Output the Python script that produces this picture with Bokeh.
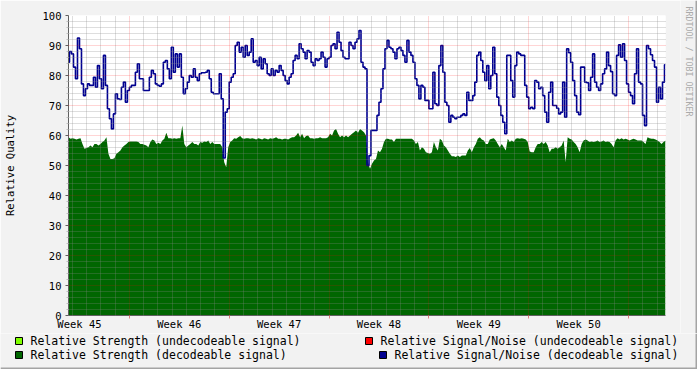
import math
from bokeh.plotting import figure
from bokeh.layouts import column, row
from bokeh.models import (Range1d, FixedTicker, ColumnDataSource)
from bokeh.core.properties import value
from bokeh.embed import file_html
from bokeh.resources import INLINE

# ---------------- data ----------------
sample_step_days = 0.14          # one consolidated sample every 0.14 day
week_labels = ["Week 45", "Week 46", "Week 47", "Week 48", "Week 49", "Week 50"]
week_label_days = [0.77, 7.77, 14.77, 21.77, 28.77, 35.77]
week_start_days = [4.27, 11.27, 18.27, 25.27, 32.27, 39.27]
y_ticks = [0, 10, 20, 30, 40, 50, 60, 70, 80, 90, 100]

# Relative Signal/Noise (decodeable signal)
sn_decodeable = [
    84.4, 88.0, 87.2, 82.8, 78.9, 92.5, 88.9, 77.2, 73.3, 75.6,
    77.2, 76.7, 76.7, 79.4, 76.1, 83.3, 78.9, 75.6, 86.7, 76.7,
    68.9, 65.6, 62.2, 67.2, 73.9, 72.2, 72.0, 76.1, 77.8, 71.1,
    75.0, 76.1, 76.7, 76.7, 81.1, 83.9, 78.9, 78.9, 75.0, 75.0,
    75.0, 79.4, 81.7, 80.6, 77.2, 76.7, 76.4, 77.2, 84.4, 85.0,
    82.2, 78.9, 89.4, 81.1, 87.2, 82.8, 87.2, 79.4, 73.9, 75.6,
    77.8, 80.0, 79.4, 82.2, 79.4, 78.3, 80.6, 80.9, 80.9, 81.1,
    81.7, 78.9, 74.4, 73.9,
    73.9, 73.9, 80.6, 72.2, 52.5, 67.8, 68.9, 77.8, 79.4, 80.6,
    90.0, 91.1, 87.8, 89.4, 86.1, 90.0, 86.7, 87.8, 92.2, 84.4,
    85.0, 83.3, 86.1, 82.2, 85.6, 83.9, 80.6, 80.0, 82.2, 80.0,
    81.7, 81.1, 83.3, 81.7, 80.0, 78.3, 77.2, 79.4, 80.6, 85.0,
    86.7, 85.6, 90.6, 88.9, 87.8, 85.6, 88.3, 87.8, 84.4, 83.3,
    85.6, 85.0, 85.6, 87.8, 86.1, 82.8, 85.6, 86.1, 90.0, 90.6,
    88.9, 94.4, 91.1, 88.3, 86.1, 85.6, 85.6, 91.1, 90.0, 88.9,
    91.1, 92.2, 95.0, 84.4, 82.8,
    82.2, 50.0, 53.3, 61.7, 61.7, 61.7, 66.7, 71.1, 75.6, 82.2,
    88.9, 91.7, 89.4, 88.9, 87.8, 85.6, 88.9, 89.4, 88.3, 86.7,
    84.4, 91.7, 87.8, 86.7, 84.4, 78.9, 76.7, 72.2, 76.7, 76.1,
    71.7, 71.7, 68.9, 68.9, 81.1, 70.6, 70.0, 83.3, 90.0, 81.1,
    71.1, 70.0, 64.4, 66.7, 66.1, 65.6, 66.1, 66.1, 66.7, 67.2,
    66.7, 74.4, 71.7, 71.7, 73.3, 77.8, 86.7, 87.8, 85.0, 81.1,
    78.3, 83.3, 75.6, 80.0, 89.4, 80.6, 72.8, 70.0, 66.7, 64.4,
    60.6, 86.7, 86.7, 78.3, 72.8,
    83.3, 87.8, 87.2, 86.7, 86.7, 76.7, 72.8, 68.9, 69.4, 68.9,
    78.3, 77.8, 75.6, 76.1, 73.3, 67.8, 64.4, 74.4, 77.8, 70.0,
    70.0, 69.1, 67.2, 67.8, 77.8, 66.1, 88.9, 87.6, 84.4, 78.3,
    73.3, 67.8, 66.9, 82.8, 82.8, 77.8, 77.6, 75.0, 79.4, 87.2,
    77.8, 76.1, 75.0, 77.2, 80.6, 82.2, 87.8, 83.3, 81.3, 73.9,
    73.3, 86.7, 90.2, 86.1, 90.6, 85.0, 77.2, 74.4, 73.3, 70.6,
    80.6, 88.9, 77.8, 77.2, 66.7, 63.3, 90.0, 88.9, 86.9, 85.0,
    82.8, 71.1, 76.1, 72.2, 77.8, 83.6,
]

# Relative Strength (decodeable signal)
strength_decodeable = [
    59.4, 58.9, 59.1, 58.9, 58.7, 58.9, 59.1, 57.2, 55.6, 55.8,
    56.1, 56.7, 56.1, 57.2, 57.2, 56.7, 57.2, 57.8, 58.3, 59.4,
    53.9, 52.2, 52.2, 52.4, 53.9, 54.4, 55.0, 56.1, 56.7, 57.2,
    57.8, 58.0, 58.0, 58.0, 58.0, 57.8, 57.2, 57.2, 56.9, 56.7,
    56.1, 57.8, 58.7, 58.3, 57.2, 57.6, 57.2, 58.3, 58.9, 60.9,
    59.1, 59.1, 58.9, 59.1, 58.9, 59.1, 59.1, 63.3, 57.2, 56.1,
    56.7, 57.2, 57.8, 57.2, 57.2, 56.7, 57.8, 57.6, 58.0, 57.8,
    58.3, 57.2, 57.8, 57.2,
    57.2, 57.2, 57.2, 56.1, 51.1, 49.4, 56.1, 57.8, 58.3, 59.1,
    58.9, 59.4, 59.8, 59.1, 58.9, 59.1, 59.1, 58.9, 59.1, 58.9,
    58.7, 59.1, 58.9, 58.7, 59.1, 58.9, 58.7, 59.1, 58.9, 59.1,
    59.4, 58.9, 58.9, 58.7, 58.9, 58.9, 58.7, 59.1, 59.4, 59.4,
    60.0, 60.9, 59.4, 60.6, 59.1, 59.8, 60.0, 59.1, 59.1, 58.9,
    59.1, 59.1, 59.4, 59.1, 59.1, 59.1, 59.4, 60.6, 60.0, 61.7,
    62.2, 60.6, 59.4, 60.0, 59.4, 60.0, 59.4, 60.0, 60.6, 61.1,
    61.7, 60.9, 62.2, 61.7, 61.1,
    60.0, 51.1, 48.9, 50.6, 51.7, 52.2, 55.0, 54.4, 55.6, 57.8,
    58.9, 58.9, 58.7, 58.7, 57.8, 58.9, 58.9, 58.9, 58.9, 58.9,
    58.9, 58.9, 58.9, 58.9, 58.3, 57.2, 57.8, 55.0, 56.1, 55.6,
    54.4, 54.2, 53.9, 54.4, 57.8, 56.1, 55.0, 58.9, 58.3, 56.7,
    56.1, 55.0, 53.9, 53.1, 53.1, 52.8, 53.3, 52.8, 53.3, 53.3,
    53.3, 55.0, 55.8, 54.4, 56.1, 57.2, 58.9, 59.4, 58.7, 58.3,
    57.2, 57.2, 58.7, 58.9, 59.1, 58.3, 57.2, 56.1, 57.2, 56.1,
    55.0, 58.9, 57.8, 58.3, 57.8,
    58.9, 59.1, 58.9, 59.1, 58.9, 58.7, 57.8, 54.7, 54.4, 54.4,
    56.1, 57.2, 57.2, 57.8, 57.2, 57.8, 56.7, 54.4, 55.6, 55.6,
    56.1, 55.6, 56.1, 56.7, 58.3, 51.1, 59.4, 58.9, 58.7, 57.8,
    57.2, 56.1, 54.4, 57.2, 58.3, 58.7, 58.3, 57.8, 58.0, 57.8,
    58.0, 58.3, 57.8, 58.0, 58.3, 57.8, 58.0, 57.8, 57.2, 56.1,
    58.3, 59.1, 58.7, 59.1, 58.7, 58.9, 58.7, 58.3, 58.7, 58.9,
    58.7, 58.3, 58.3, 58.3, 57.8, 57.2, 59.4, 59.1, 58.9, 58.9,
    58.7, 58.3, 57.8, 57.2, 57.8, 58.3,
]

legend_labels = [
    "Relative Strength (undecodeable signal)",
    "Relative Strength  (decodeable signal)",
    "Relative Signal/Noise (undecodeable signal)",
    "Relative Signal/Noise (decodeable signal)",
]
legend_colors = ["#80FF00", "#006600", "#FF0000", "#000090"]
signature = "RRDTOOL / TOBI OETIKER"

FONT = "DejaVu Sans Mono"
BG = "#F2F2F2"
EDGE = "#A4A4A4"
W, H = 697, 369
MAIN_W, MAIN_H = 680, 333

# ---------------- main chart ----------------
t = [i * sample_step_days for i in range(len(sn_decodeable))]
x_end = t[-1]
src = ColumnDataSource(dict(t=t, sn=sn_decodeable, st=strength_decodeable))

p = figure(width=MAIN_W, height=MAIN_H, x_range=Range1d(0, x_end), y_range=Range1d(0, 100),
           output_backend="svg", toolbar_location=None,
           min_border_left=67, min_border_right=MAIN_W - 665, min_border_top=15,
           min_border_bottom=MAIN_H - 315,
           background_fill_color="white", border_fill_color=BG)
p.outline_line_color = None
p.frame_align = False

p.varea(x="t", y1=0, y2="st", source=src, fill_color="#006600")
p.step(x="t", y="sn", source=src, mode="center", line_color="#000090", line_width=1.6)

# grids
minor_days = [week_start_days[0] - 4 + k for k in range(43)
              if (week_start_days[0] - 4 + k) <= x_end and (k - 4) % 7 != 0]
y_minor = [v for v in range(0, 101, 2) if v % 10]
p.xgrid.ticker = FixedTicker(ticks=week_start_days, minor_ticks=minor_days)
p.ygrid.ticker = FixedTicker(ticks=y_ticks, minor_ticks=y_minor)
for g in (p.xgrid[0], p.ygrid[0]):
    g.level = "overlay"
    g.grid_line_color = "#FF0000"
    g.grid_line_alpha = 0.33
    g.grid_line_dash = "1 1"
    g.minor_grid_line_color = "#888888"
    g.minor_grid_line_alpha = 0.55
    g.minor_grid_line_dash = "1 1"

# x axis
xa = p.xaxis[0]
xa.ticker = FixedTicker(ticks=week_label_days, minor_ticks=week_start_days)
xa.major_label_overrides = {d: s for d, s in zip(week_label_days, week_labels)}
xa.major_tick_out = 0
xa.major_tick_in = 0
xa.minor_tick_out = 3
xa.minor_tick_in = 0
xa.minor_tick_line_color = "#E08080"
xa.axis_line_color = "#606060"
xa.major_label_text_font = FONT
xa.major_label_text_font_size = "10.5px"
xa.major_label_text_color = "black"
xa.major_label_standoff = -1

# y axis
ya = p.yaxis[0]
ya.ticker = FixedTicker(ticks=y_ticks, minor_ticks=y_minor)
ya.major_tick_out = 3
ya.major_tick_in = 0
ya.major_tick_line_color = "#606060"
ya.minor_tick_out = 2
ya.minor_tick_in = 0
ya.minor_tick_line_color = "#C0C0C0"
ya.axis_line_color = "#606060"
ya.major_label_text_font = FONT
ya.major_label_text_font_size = "10.5px"
ya.major_label_text_color = "black"
ya.major_label_standoff = 4
ya.axis_label = "Relative Quality"
ya.axis_label_text_font = FONT
ya.axis_label_text_font_size = "10.5px"
ya.axis_label_text_font_style = "normal"
ya.axis_label_text_color = "black"
ya.axis_label_standoff = 24

# ---------------- signature strip on the right (pixel coordinates) ----------------
SW = W - MAIN_W
sig = figure(width=SW, height=MAIN_H, x_range=Range1d(0, SW), y_range=Range1d(0, MAIN_H),
             output_backend="svg", toolbar_location=None, x_axis_type=None, y_axis_type=None,
             min_border=0, min_border_left=0, min_border_right=0, min_border_top=0,
             min_border_bottom=0, background_fill_color=BG, border_fill_color=BG)
sig.outline_line_color = None
sig.frame_align = False
sig.quad(left=[SW - 2], right=[SW], bottom=[0], top=[MAIN_H], fill_color=EDGE, line_color=None)
sig.text(x=[688.5 - MAIN_W], y=[MAIN_H - 61], text=[signature], angle=-math.pi / 2,
         text_font=value(FONT), text_font_size="8.3px", text_color="#AAAAAA",
         text_align="center", text_baseline="middle")

# ---------------- legend strip (pixel coordinates) ----------------
LH = H - MAIN_H
lg = figure(width=W, height=LH, x_range=Range1d(0, W), y_range=Range1d(LH, 0),
            output_backend="svg", toolbar_location=None, x_axis_type=None, y_axis_type=None,
            min_border=0, min_border_left=0, min_border_right=0, min_border_top=0,
            min_border_bottom=0, background_fill_color=BG, border_fill_color=BG)
lg.outline_line_color = None
lg.frame_align = False
lg.quad(left=[0, W - 2], right=[W, W], top=[LH - 2, 0], bottom=[LH, LH],
        fill_color=EDGE, line_color=None)
sq_left = [15, 15, 365, 379]
row_mid = [340.5 - MAIN_H, 354.5 - MAIN_H, 340.5 - MAIN_H, 354.5 - MAIN_H]
lg.quad(left=sq_left, right=[v + 7 for v in sq_left],
        top=[m - 3.5 for m in row_mid], bottom=[m + 3.5 for m in row_mid],
        fill_color=legend_colors, line_color="black", line_width=1)
lg.text(x=[v + 15 for v in sq_left], y=row_mid, text=legend_labels,
        text_font=value(FONT), text_font_size="11.5px", text_color="black",
        text_baseline="middle", text_align="left")

layout = column(row(p, sig, spacing=0), lg, spacing=0)
open("out.html", "w").write(file_html(layout, INLINE))
